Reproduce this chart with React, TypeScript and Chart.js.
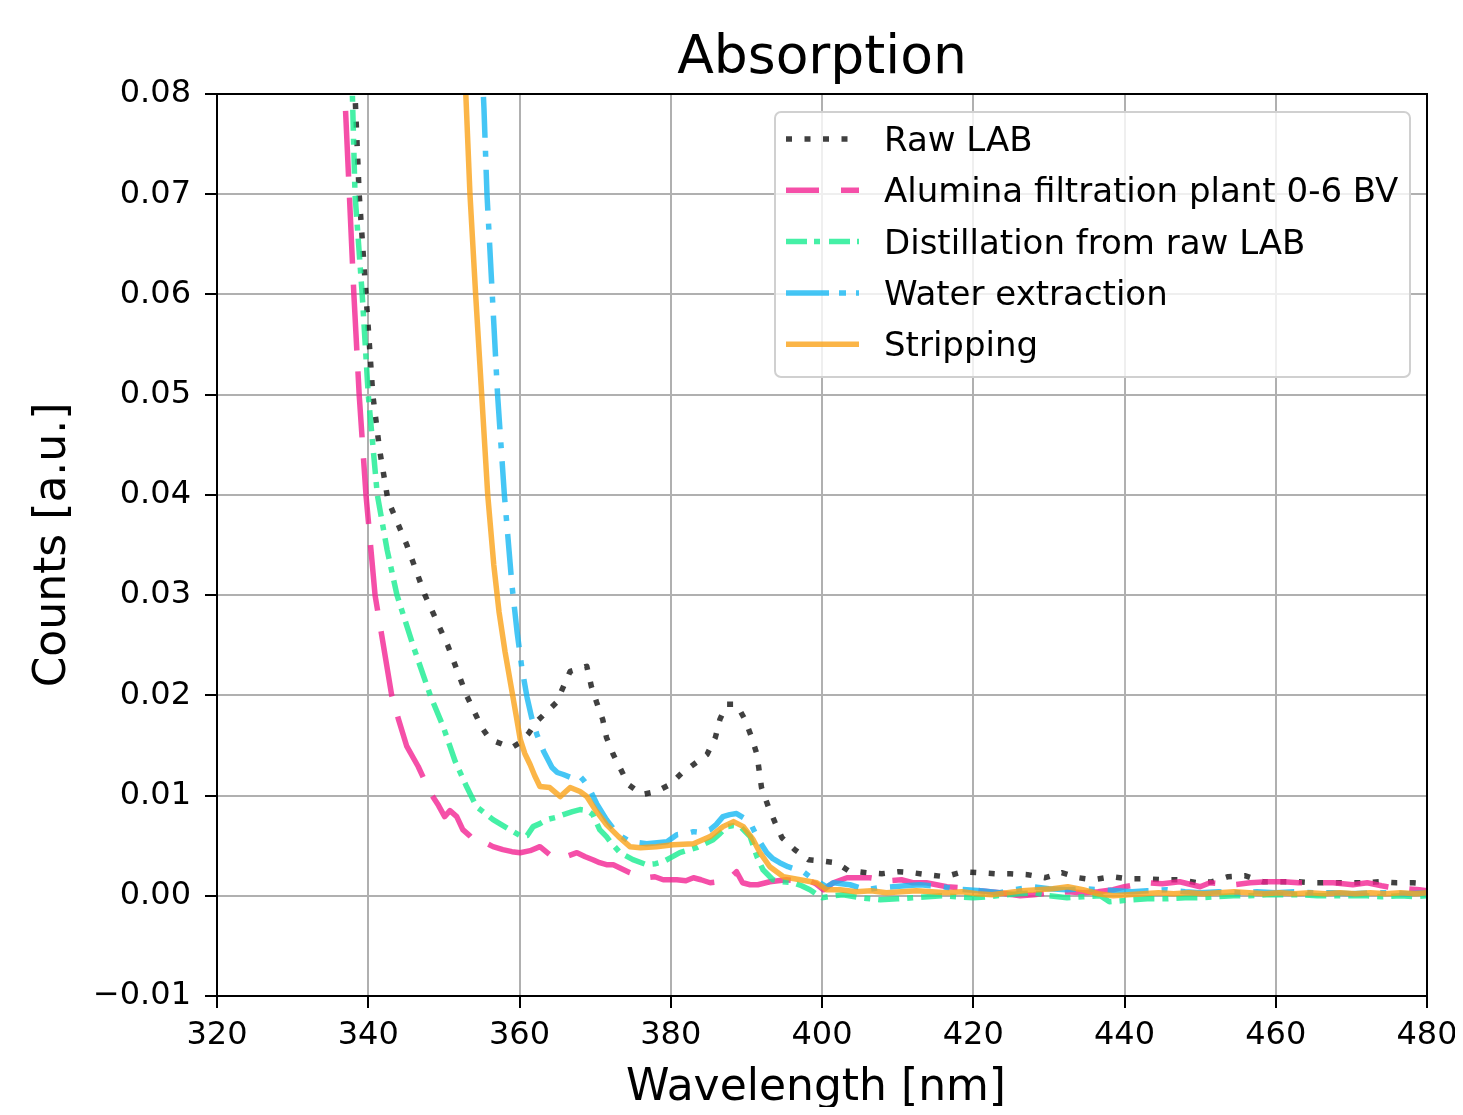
import { useEffect, useRef } from "react";
import { Chart, registerables } from "chart.js";

Chart.register(...registerables);

// ---------- data ----------
const chartTitle = "Absorption";
const xAxisLabel = "Wavelength [nm]";
const yAxisLabel = "Counts [a.u.]";

const xTickValues = [320, 340, 360, 380, 400, 420, 440, 460, 480];
const yTickValues = [-0.01, 0, 0.01, 0.02, 0.03, 0.04, 0.05, 0.06, 0.07, 0.08];

const seriesNames = [
  "Raw LAB",
  "Alumina filtration plant 0-6 BV",
  "Distillation from raw LAB",
  "Water extraction",
  "Stripping",
];

// [wavelength nm, counts]
const rawLab: [number, number][] = [
  [337.6, 0.092], [338.25, 0.08], [338.8, 0.07], [339.7, 0.06], [340.6, 0.05], [341.5, 0.0445],
  [342.6, 0.0395], [345.1, 0.035], [347.5, 0.03], [350.5, 0.025], [353.0, 0.02], [355.0, 0.0168],
  [356.1, 0.0156], [357.8, 0.0151], [359.0, 0.0148], [360.1, 0.0153], [361.2, 0.0162], [362.3, 0.0174],
  [364.9, 0.0193], [366.7, 0.0224], [368.9, 0.0229], [369.5, 0.0209], [370.2, 0.0193], [371.0, 0.0176],
  [371.5, 0.0158], [372.4, 0.0141], [374.4, 0.0111], [376.2, 0.0101], [378.1, 0.0104], [379.9, 0.0111],
  [381.4, 0.0122], [383.2, 0.0132], [384.8, 0.0141], [385.9, 0.0158], [386.5, 0.0176], [387.4, 0.0191],
  [388.7, 0.0191], [389.8, 0.0176], [390.7, 0.0158], [391.4, 0.0141], [392.0, 0.0108], [392.9, 0.0089],
  [393.8, 0.0073], [394.7, 0.0058], [396.4, 0.0046], [398.2, 0.0036], [399.7, 0.0035], [401.9, 0.0033],
  [403.5, 0.0025], [405.9, 0.0023], [407.9, 0.0022], [410.1, 0.0024], [412.0, 0.0023], [414.0, 0.0021],
  [416.3, 0.0019], [418.6, 0.0024], [420.9, 0.0023], [422.9, 0.0022], [424.9, 0.0022], [427.2, 0.0021],
  [429.5, 0.0018], [431.7, 0.0023], [433.9, 0.0018], [435.9, 0.0016], [438.3, 0.0019], [440.5, 0.0017],
  [442.7, 0.0017], [445.0, 0.0016], [447.3, 0.0016], [449.6, 0.0013], [451.6, 0.0014], [453.7, 0.0019],
  [455.9, 0.002], [458.3, 0.0014], [460.6, 0.0014], [462.8, 0.0014], [464.9, 0.0013], [467.2, 0.0013],
  [469.4, 0.0013], [471.5, 0.0013], [473.8, 0.0014], [476.0, 0.0013], [478.2, 0.0013], [480, 0.0012],
];

const alumina: [number, number][] = [
  [336.5, 0.087], [336.9, 0.08], [337.5, 0.07], [338.1, 0.06], [338.8, 0.05], [339.7, 0.04],
  [340.9, 0.03], [343.1, 0.02], [344.0, 0.0176], [345.1, 0.0149], [346.6, 0.0129], [348.2, 0.0103],
  [349.3, 0.009], [350.1, 0.0079], [350.8, 0.0085], [351.7, 0.0079], [352.5, 0.0066], [353.4, 0.006],
  [354.3, 0.0053], [355.2, 0.0054], [356.5, 0.0049], [357.8, 0.0046], [359.0, 0.0044], [360.1, 0.0043],
  [361.4, 0.0045], [362.7, 0.0049], [364.0, 0.0041], [365.5, 0.0044], [366.5, 0.004], [367.6, 0.0043],
  [368.7, 0.0039], [369.7, 0.0036], [370.6, 0.0033], [371.5, 0.0031], [372.4, 0.0031], [373.5, 0.0027],
  [374.6, 0.0023], [375.7, 0.002], [376.8, 0.0018], [377.9, 0.0019], [379.0, 0.0016], [380.8, 0.0016],
  [382.0, 0.0015], [383.0, 0.0018], [384.0, 0.0016], [385.2, 0.0013], [386.3, 0.0014], [387.4, 0.0016],
  [388.0, 0.0019], [388.7, 0.0024], [389.5, 0.0013], [390.5, 0.0011], [391.5, 0.0011], [393.1, 0.0014],
  [395.3, 0.0016], [396.6, 0.0015], [398.0, 0.0016], [399.2, 0.0012], [400.2, 0.0006], [401.5, 0.0013],
  [403.3, 0.0018], [404.1, 0.0018], [406.3, 0.0018], [408.7, 0.0015], [410.5, 0.0016], [412.0, 0.0013],
  [413.8, 0.0013], [416.5, 0.0009], [418.5, 0.0008], [420.9, 0.0005], [423.5, 0.0003], [426.2, 0.0],
  [428.0, 0.0001], [430.0, 0.0003], [432.4, 0.0004], [434.5, 0.0003], [436.5, 0.0004], [438.5, 0.0006],
  [440.0, 0.0009], [443.0, 0.0013], [445.0, 0.0012], [447.3, 0.0014], [450.0, 0.0009], [451.3, 0.0013],
  [454.4, 0.0011], [456.6, 0.0013], [458.8, 0.0014], [461.0, 0.0014], [463.0, 0.0013], [464.9, 0.0013],
  [467.6, 0.0013], [470.2, 0.0011], [472.1, 0.0013], [474.0, 0.001], [475.5, 0.0008], [477.5, 0.0007],
  [479.0, 0.0006], [480, 0.0005],
];

const distillation: [number, number][] = [
  [337.5, 0.087], [337.9, 0.08], [338.25, 0.07], [339.2, 0.06], [340.0, 0.05], [341.2, 0.04],
  [342.5, 0.0345], [343.8, 0.03], [346.0, 0.0248], [348.2, 0.02], [349.9, 0.0169], [351.5, 0.0134],
  [353.0, 0.0109], [354.3, 0.0089], [355.5, 0.0082], [356.5, 0.0076], [357.6, 0.0071], [358.7, 0.0066],
  [360.3, 0.0059], [361.0, 0.006], [361.8, 0.0069], [362.7, 0.0072], [363.6, 0.0076], [364.7, 0.0078],
  [365.8, 0.0081], [367.0, 0.0084], [368.0, 0.0086], [369.0, 0.0085], [369.7, 0.0081], [370.6, 0.0066],
  [371.5, 0.0059], [372.0, 0.0054], [373.3, 0.0043], [375.0, 0.0036], [376.8, 0.0031], [378.0, 0.0032],
  [379.0, 0.0034], [380.0, 0.0038], [381.2, 0.0043], [383.4, 0.0048], [384.5, 0.0052], [385.6, 0.0056],
  [386.5, 0.0062], [387.4, 0.0069], [388.3, 0.007], [389.2, 0.0069], [390.5, 0.0059], [391.4, 0.0039],
  [392.2, 0.0026], [393.5, 0.0016], [394.8, 0.0014], [396.2, 0.0013], [397.3, 0.001], [398.4, 0.0006],
  [400.0, -0.0002], [401.5, 0.0], [402.8, 0.0001], [405.0, -0.0002], [407.7, -0.0004], [410.0, -0.0003],
  [412.0, -0.0002], [414.0, -0.0001], [416.0, 0.0], [418.0, -0.0001], [420.0, -0.0002], [422.0, -0.0001],
  [424.4, 0.0001], [426.0, 0.0002], [428.0, 0.0003], [430.0, 0.0], [432.4, -0.0002], [434.5, -0.0001],
  [436.8, 0.0], [438.0, -0.0006], [441.0, -0.0004], [443.0, -0.0003], [445.6, -0.0003], [448.0, -0.0002],
  [450.0, -0.0002], [452.0, -0.0001], [454.4, 0.0], [456.5, 0.0], [458.8, 0.0001], [461.0, 0.0001],
  [463.2, 0.0001], [465.5, 0.0], [467.6, 0.0], [470.0, 0.0], [472.1, 0.0], [474.0, -0.0001],
  [476.5, 0.0], [478.5, -0.0001], [480, 0.0],
];

const waterExtraction: [number, number][] = [
  [354.8, 0.087], [355.3, 0.0786], [355.7, 0.07], [356.4, 0.06], [357.1, 0.05], [358.0, 0.04],
  [359.0, 0.031], [359.7, 0.0262], [360.3, 0.0228], [361.0, 0.0198], [361.6, 0.0178], [362.3, 0.0161],
  [363.2, 0.0144], [364.3, 0.0128], [365.0, 0.0123], [365.8, 0.0121], [366.8, 0.0118], [367.8, 0.0121],
  [368.5, 0.0115], [369.1, 0.0109], [370.2, 0.0092], [371.5, 0.0076], [372.9, 0.0062], [374.6, 0.0054],
  [375.7, 0.0053], [376.8, 0.0052], [378.2, 0.0053], [379.5, 0.0054], [380.8, 0.0061], [382.0, 0.0062],
  [383.0, 0.0064], [384.1, 0.0063], [385.2, 0.0066], [386.0, 0.0071], [386.9, 0.0079], [387.8, 0.0081],
  [388.7, 0.0082], [389.6, 0.0078], [390.5, 0.0073], [391.6, 0.0056], [392.7, 0.0043], [393.5, 0.0037],
  [394.4, 0.0033], [395.5, 0.0029], [396.7, 0.0026], [397.5, 0.0024], [398.4, 0.0019], [399.7, 0.0013],
  [400.6, 0.0009], [401.5, 0.0013], [403.7, 0.0011], [405.9, 0.0006], [407.5, 0.0008], [409.4, 0.0009],
  [411.0, 0.001], [413.0, 0.0011], [414.5, 0.001], [416.0, 0.0009], [417.5, 0.0007], [419.1, 0.0006],
  [421.0, 0.0005], [423.5, 0.0003], [425.5, 0.0006], [427.9, 0.0009], [430.0, 0.0007], [432.4, 0.0006],
  [434.5, 0.0007], [436.8, 0.0006], [439.0, 0.0005], [441.0, 0.0004], [443.0, 0.0005], [445.6, 0.0006],
  [448.0, 0.0004], [450.0, 0.0003], [452.5, 0.0004], [455.0, 0.0003], [457.5, 0.0004], [460.0, 0.0003],
  [462.5, 0.0004], [465.0, 0.0003], [467.5, 0.0003], [470.0, 0.0002], [472.5, 0.0003], [475.0, 0.0003],
  [477.5, 0.0002], [480, 0.0003],
];

const stripping: [number, number][] = [
  [352.6, 0.0855], [352.9, 0.08], [353.45, 0.07], [354.2, 0.06], [355.0, 0.05], [355.8, 0.04],
  [356.6, 0.033], [357.3, 0.0283], [358.1, 0.0243], [359.0, 0.0204], [359.6, 0.0178], [360.1, 0.0156],
  [360.7, 0.0142], [361.4, 0.0131], [362.0, 0.012], [362.7, 0.0109], [364.0, 0.0108], [365.4, 0.0099],
  [366.7, 0.0108], [368.0, 0.0104], [368.9, 0.0099], [370.0, 0.0086], [371.5, 0.0071], [373.1, 0.0059],
  [374.6, 0.0049], [376.0, 0.0048], [378.1, 0.0049], [380.3, 0.0051], [383.0, 0.0052], [385.2, 0.0059],
  [386.9, 0.0069], [388.3, 0.0074], [389.6, 0.0069], [390.9, 0.0056], [391.8, 0.0043], [393.1, 0.0029],
  [394.9, 0.0019], [397.1, 0.0016], [399.3, 0.0013], [400.6, 0.0006], [402.4, 0.0006], [404.5, 0.0004],
  [406.5, 0.0005], [408.5, 0.0003], [410.5, 0.0004], [412.5, 0.0005], [414.5, 0.0004], [416.5, 0.0003],
  [418.5, 0.0004], [420.5, 0.0002], [422.5, 0.0001], [424.5, 0.0003], [426.5, 0.0005], [428.5, 0.0006],
  [430.5, 0.0007], [432.5, 0.0009], [434.5, 0.0006], [436.5, 0.0002], [438.5, 0.0], [440.5, 0.0001],
  [442.5, 0.0002], [444.5, 0.0003], [446.5, 0.0002], [448.5, 0.0003], [450.5, 0.0002], [452.5, 0.0003],
  [454.5, 0.0004], [456.5, 0.0003], [458.5, 0.0002], [460.5, 0.0003], [462.5, 0.0002], [464.5, 0.0003],
  [466.5, 0.0002], [468.5, 0.0003], [470.5, 0.0002], [472.5, 0.0003], [474.5, 0.0002], [476.5, 0.0003],
  [478.5, 0.0002], [480, 0.0003],
];

const seriesData = [rawLab, alumina, distillation, waterExtraction, stripping];

// ---------- styles ----------
const seriesColors = [
  "rgba(16,16,16,0.8)",
  "rgba(242,35,146,0.8)",
  "rgba(22,236,144,0.8)",
  "rgba(22,184,243,0.8)",
  "rgba(250,162,25,0.8)",
];
const plotDash = [[6, 12.5], [66, 21], [21, 8, 6, 8], [41, 13, 6, 13], []];
const legendDash = [[6, 12.5], [33, 22], [21, 7, 6, 9], [43, 10, 7, 10], []];
const LW = 5.5;
const FONT = '"DejaVu Sans", "Liberation Sans", sans-serif';

const W = 1447;
const H = 1099;
const AREA = { left: 209, right: 1419, top: 86, bottom: 988 };

const decorPlugin = {
  id: "decor",
  afterDraw(chart: any) {
    const { ctx, chartArea: a } = chart;
    ctx.save();
    ctx.setLineDash([]);
    ctx.strokeStyle = "#000";
    ctx.lineWidth = 2;
    ctx.strokeRect(a.left, a.top, a.right - a.left, a.bottom - a.top);

    const cx = (a.left + a.right) / 2;
    ctx.fillStyle = "#000";
    ctx.textAlign = "center";
    ctx.textBaseline = "alphabetic";
    ctx.font = `53.5px ${FONT}`;
    ctx.fillText(chartTitle, cx, 65);
    ctx.font = `44px ${FONT}`;
    ctx.fillText(xAxisLabel, cx - 6, 1092);
    ctx.save();
    ctx.translate(57, (a.top + a.bottom) / 2);
    ctx.rotate(-Math.PI / 2);
    ctx.fillText(yAxisLabel, 0, 0);
    ctx.restore();

    // legend
    const bx = 767, by = 104, bw = 635, bh = 265, r = 6;
    ctx.beginPath();
    ctx.moveTo(bx + r, by);
    ctx.arcTo(bx + bw, by, bx + bw, by + bh, r);
    ctx.arcTo(bx + bw, by + bh, bx, by + bh, r);
    ctx.arcTo(bx, by + bh, bx, by, r);
    ctx.arcTo(bx, by, bx + bw, by, r);
    ctx.closePath();
    ctx.fillStyle = "rgba(255,255,255,0.8)";
    ctx.fill();
    ctx.strokeStyle = "#d0d0d0";
    ctx.lineWidth = 2;
    ctx.stroke();

    ctx.textAlign = "left";
    ctx.font = `34px ${FONT}`;
    seriesNames.forEach((name, i) => {
      const ly = 131 + i * 51.3;
      ctx.beginPath();
      ctx.strokeStyle = seriesColors[i];
      ctx.lineWidth = LW;
      ctx.lineCap = "butt";
      ctx.setLineDash(legendDash[i]);
      ctx.moveTo(778, ly);
      ctx.lineTo(851, ly);
      ctx.stroke();
      ctx.setLineDash([]);
      ctx.fillStyle = "#000";
      ctx.fillText(name, 876, ly + 12);
    });
    ctx.restore();
  },
};

export default function App() {
  const ref = useRef<HTMLCanvasElement | null>(null);

  useEffect(() => {
    if (!ref.current) return;
    const order = [5, 4, 3, 2, 1];
    const chart = new Chart(ref.current, {
      type: "line",
      data: {
        datasets: seriesData.map((s, i) => ({
          label: seriesNames[i],
          data: s.map(([x, y]) => ({ x, y })),
          borderColor: seriesColors[i],
          backgroundColor: seriesColors[i],
          borderWidth: LW,
          borderDash: plotDash[i],
          borderCapStyle: "butt",
          borderJoinStyle: "round",
          pointRadius: 0,
          pointHoverRadius: 0,
          tension: 0,
          fill: false,
          clip: 0,
          order: order[i],
        })),
      },
      options: {
        animation: false,
        responsive: false,
        devicePixelRatio: 1,
        events: [],
        layout: {
          padding: { left: 0, top: AREA.top, right: W - AREA.right, bottom: 0 },
        },
        plugins: {
          legend: { display: false },
          title: { display: false },
          tooltip: { enabled: false },
        },
        scales: {
          x: {
            type: "linear",
            min: 320,
            max: 480,
            afterBuildTicks: (s: any) => {
              s.ticks = xTickValues.map((v) => ({ value: v }));
            },
            afterFit: (s: any) => {
              s.height = H - AREA.bottom;
              s.paddingLeft = 0;
              s.paddingRight = 0;
            },
            grid: {
              color: "#b0b0b0",
              lineWidth: 2,
              drawTicks: true,
              tickLength: 12,
              tickColor: "#000",
              tickWidth: 2,
            },
            border: { display: false },
            ticks: {
              color: "#000",
              font: { family: FONT, size: 32 },
              padding: 8,
              maxRotation: 0,
              autoSkip: false,
              callback: (v: any) => String(Math.round(Number(v))),
            },
          },
          y: {
            type: "linear",
            min: -0.01,
            max: 0.08,
            afterBuildTicks: (s: any) => {
              s.ticks = yTickValues.map((v) => ({ value: v }));
            },
            afterFit: (s: any) => {
              s.width = AREA.left;
              s.paddingTop = 0;
              s.paddingBottom = 0;
            },
            grid: {
              color: "#b0b0b0",
              lineWidth: 2,
              drawTicks: true,
              tickLength: 12,
              tickColor: "#000",
              tickWidth: 2,
            },
            border: { display: false },
            ticks: {
              color: "#000",
              font: { family: FONT, size: 32 },
              padding: 14,
              autoSkip: false,
              callback: (v: any) => {
                const n = Number(v);
                if (Math.abs(n) < 1e-9) return "0.00";
                return (n < 0 ? "\u2212" : "") + Math.abs(n).toFixed(2);
              },
            },
          },
        },
      },
      plugins: [decorPlugin],
    } as any);
    return () => chart.destroy();
  }, []);

  return (
    <div style={{ width: W, height: H }}>
      <canvas ref={ref} width={W} height={H} style={{ display: "block", width: W, height: H }} />
    </div>
  );
}
